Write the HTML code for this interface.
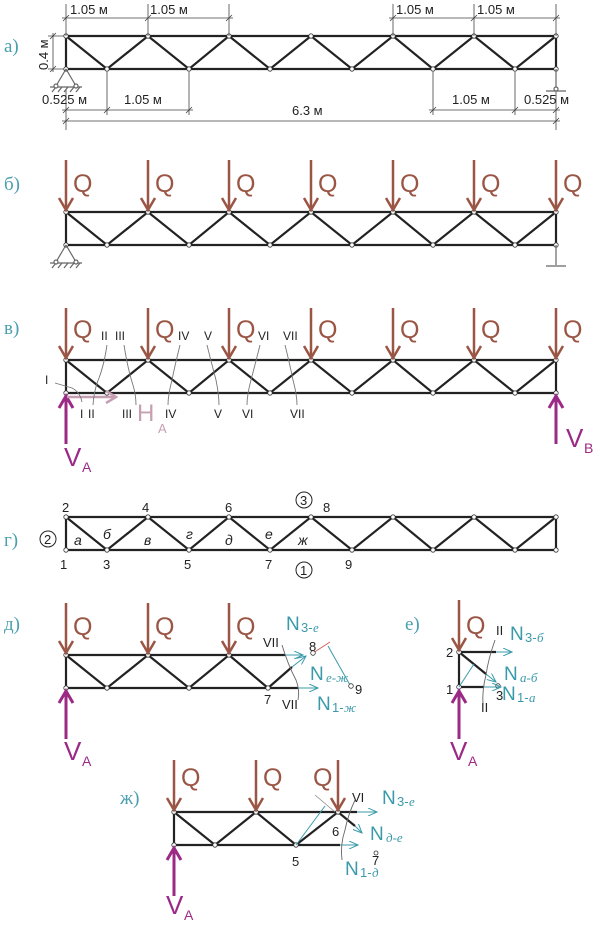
<!DOCTYPE html>
<html><head><meta charset="utf-8"><style>
html,body{margin:0;padding:0;background:#fff}
svg{display:block}
text{font-family:"Liberation Sans",sans-serif}
.lab{fill:#4a9fae;font-family:"Liberation Serif",serif;font-size:19px}
.q{fill:#9a5544;font-size:25px}
.d{font-size:13px;fill:#222}
.r{fill:#9b2a86;font-size:26px}
.n{fill:#3a9aaa;font-size:19px}
.ni{fill:#3a9aaa;font-size:13px;font-style:italic;font-family:"Liberation Serif",serif}
.np{fill:#3a9aaa;font-size:13px}
.c{fill:#222;font-size:12px}
.c13{fill:#222;font-size:13px}
.rs{fill:#9b2a86;font-size:14px}
</style></head><body>
<svg width="600" height="926" viewBox="0 0 600 926" xmlns="http://www.w3.org/2000/svg">
<defs>
<marker id="nd" markerWidth="6" markerHeight="6" refX="3" refY="3" markerUnits="userSpaceOnUse"><circle cx="3" cy="3" r="2.2" fill="#fff" stroke="#333" stroke-width="0.8"/></marker>
<marker id="ta" markerWidth="10" markerHeight="8" refX="9" refY="4" orient="auto" markerUnits="userSpaceOnUse"><path d="M0,0 L9,4 L0,8" fill="none" stroke="#3a9aaa" stroke-width="1"/></marker>
<g id="truss" stroke="#222" stroke-width="2.2" fill="none">
<line x1="66" y1="0" x2="556" y2="0"/><line x1="66" y1="33" x2="556" y2="33"/>
<line x1="66" y1="0" x2="66" y2="33"/><line x1="556" y1="0" x2="556" y2="33"/>
<polyline points="66,0 107,33 148,0 189,33 229,0 270,33 311,0 352,33 393,0 433,33 474,0 515,33 556,0" marker-start="url(#nd)" marker-mid="url(#nd)" marker-end="url(#nd)"/>
<line x1="66" y1="33" x2="66" y2="33" marker-start="url(#nd)"/><line x1="556" y1="33" x2="556" y2="33" marker-start="url(#nd)"/>
</g>
<g id="qa" stroke="#9a5544" stroke-width="2.5" fill="none"><line x1="0" y1="-52" x2="0" y2="-2"/><polyline points="-7,-14 0,-2 7,-14"/></g>
<g id="va" stroke="#9b2a86" stroke-width="3" fill="none"><line x1="0" y1="50" x2="0" y2="2"/><polyline points="-7,14 0,2 7,14"/></g>
</defs>

<!-- a) -->
<text x="4" y="52" class="lab">а)</text>
<use href="#truss" y="36"/>
<g stroke="#444" stroke-width="0.8" fill="none">
<path d="M66,4V36 M148,4V36 M229,4V36 M393,4V36 M474,4V36 M556,4V36"/>
<path d="M62,18H233 M389,18H560"/>
<path d="M63,21L69,15 M145,21L151,15 M226,21L232,15 M390,21L396,15 M471,21L477,15 M553,21L559,15"/>
<path d="M48,36H64 M48,69H64 M53,33V72 M50,39L56,33 M50,72L56,66"/>
<path d="M107,72V115 M189,72V115 M433,72V115 M515,72V115 M556,72V130 M66,90V130"/>
<path d="M62,110H193 M429,110H560 M63,113L69,107 M104,113L110,107 M186,113L192,107 M430,113L436,107 M512,113L518,107 M553,113L559,107"/>
<path d="M62,121H560 M63,124L69,118 M553,124L559,118"/>
</g>
<text x="70" y="14" class="d">1.05 м</text><text x="150" y="14" class="d">1.05 м</text>
<text x="396" y="14" class="d">1.05 м</text><text x="477" y="14" class="d">1.05 м</text>
<text x="48" y="70" class="d" transform="rotate(-90 48 70)">0.4 м</text>
<text x="42" y="104" class="d">0.525 м</text><text x="124" y="104" class="d">1.05 м</text>
<text x="452" y="104" class="d">1.05 м</text><text x="524" y="104" class="d">0.525 м</text>
<text x="292" y="115" class="d">6.3 м</text>
<g stroke="#666" stroke-width="1.2" fill="none">
<path d="M66,69 L56,86 M66,69 L76,86 M50,87H82"/><path d="M52,92l4,-5 M58,92l4,-5 M64,92l4,-5 M70,92l4,-5 M76,92l4,-5"/>
<circle cx="56" cy="86" r="2" fill="#fff"/><circle cx="76" cy="86" r="2" fill="#fff"/>
<path d="M556,69V90 M546,91H566"/><circle cx="556" cy="89" r="2" fill="#fff"/>
</g>

<!-- б) -->
<text x="4" y="190" class="lab">б)</text>
<use href="#truss" y="212"/>
<use href="#qa" x="66" y="212"/><use href="#qa" x="148" y="212"/><use href="#qa" x="229" y="212"/><use href="#qa" x="311" y="212"/><use href="#qa" x="393" y="212"/><use href="#qa" x="474" y="212"/><use href="#qa" x="556" y="212"/>
<text x="73" y="192" class="q">Q</text><text x="155" y="192" class="q">Q</text><text x="236" y="192" class="q">Q</text><text x="318" y="192" class="q">Q</text><text x="400" y="192" class="q">Q</text><text x="481" y="192" class="q">Q</text><text x="563" y="192" class="q">Q</text>
<g stroke="#666" stroke-width="1.2" fill="none">
<path d="M66,245 L56,262 M66,245 L76,262 M50,263H82"/><path d="M52,268l4,-5 M58,268l4,-5 M64,268l4,-5 M70,268l4,-5 M76,268l4,-5"/>
<circle cx="56" cy="262" r="2" fill="#fff"/><circle cx="76" cy="262" r="2" fill="#fff"/>
<path d="M556,245V265 M546,266H566"/>
</g>

<!-- в) -->
<text x="4" y="334" class="lab">в)</text>
<use href="#truss" y="360"/>
<use href="#qa" x="66" y="360"/><use href="#qa" x="148" y="360"/><use href="#qa" x="229" y="360"/><use href="#qa" x="311" y="360"/><use href="#qa" x="393" y="360"/><use href="#qa" x="474" y="360"/><use href="#qa" x="556" y="360"/>
<text x="73" y="338" class="q">Q</text><text x="155" y="338" class="q">Q</text><text x="236" y="338" class="q">Q</text><text x="318" y="338" class="q">Q</text><text x="400" y="338" class="q">Q</text><text x="481" y="338" class="q">Q</text><text x="563" y="338" class="q">Q</text>
<use href="#va" x="66" y="394"/><use href="#va" x="556" y="394"/>
<text x="64" y="466" class="r">V</text><text x="82" y="472" class="rs">A</text>
<text x="566" y="447" class="r">V</text><text x="584" y="453" class="rs">B</text>
<g stroke="#c79fb2" stroke-width="2.5" fill="none"><line x1="67" y1="397" x2="116" y2="397"/><polyline points="106,391 116,397 106,403"/></g>
<text x="137" y="421" fill="#c79fb2" font-size="24">H</text><text x="158" y="433" fill="#c79fb2" font-size="13">A</text>
<g stroke="#777" stroke-width="0.9" fill="none">
<path d="M55,383 L72,388 Q80,392 82,402"/>
<path d="M107,345 Q104,365 99,378 Q94,390 93,405"/>
<path d="M124,345 Q128,370 133,385 Q136,395 136,405"/>
<path d="M180,345 Q175,365 172,380 Q168,395 168,405"/>
<path d="M207,345 Q212,365 216,380 Q219,395 219,405"/>
<path d="M260,345 Q255,365 251,380 Q247,395 247,405"/>
<path d="M285,345 Q290,365 293,380 Q297,395 297,405"/>
</g>
<text x="45" y="384" class="c">I</text>
<text x="101" y="340" class="c">II</text><text x="115" y="340" class="c">III</text><text x="178" y="340" class="c">IV</text><text x="204" y="340" class="c">V</text><text x="258" y="340" class="c">VI</text><text x="283" y="340" class="c">VII</text>
<text x="80" y="418" class="c">I</text><text x="88" y="418" class="c">II</text><text x="122" y="418" class="c">III</text><text x="165" y="418" class="c">IV</text><text x="214" y="418" class="c">V</text><text x="242" y="418" class="c">VI</text><text x="290" y="418" class="c">VII</text>

<!-- г) -->
<text x="4" y="546" class="lab">г)</text>
<use href="#truss" y="517"/>
<text x="62" y="512" class="c13">2</text><text x="142" y="512" class="c13">4</text><text x="225" y="512" class="c13">6</text><text x="323" y="512" class="c13">8</text>
<text x="60" y="569" class="c13">1</text><text x="103" y="569" class="c13">3</text><text x="184" y="569" class="c13">5</text><text x="265" y="569" class="c13">7</text><text x="345" y="569" class="c13">9</text>
<g fill="none" stroke="#222" stroke-width="1"><circle cx="48" cy="539" r="8"/><circle cx="304" cy="500" r="8"/><circle cx="304" cy="570" r="8"/></g>
<text x="44" y="544" class="c13">2</text><text x="300" y="505" class="c13">3</text><text x="300" y="575" class="c13">1</text>
<g font-family="Liberation Serif,serif" font-style="italic" font-size="14" fill="#222">
<text x="74" y="545">а</text><text x="103" y="539">б</text><text x="144" y="545">в</text><text x="186" y="539">г</text><text x="225" y="545">д</text><text x="265" y="539">е</text><text x="298" y="545">ж</text></g>

<!-- д) -->
<text x="4" y="630" class="lab">д)</text>
<g stroke="#222" stroke-width="2.2" fill="none">
<line x1="66" y1="655" x2="285" y2="655"/><line x1="66" y1="688" x2="298" y2="688"/><line x1="66" y1="655" x2="66" y2="688"/>
<polyline points="66,655 107,688 148,655 189,688 229,655 268,688 292,667" marker-start="url(#nd)" marker-mid="url(#nd)"/>
<line x1="66" y1="688" x2="66" y2="688" marker-start="url(#nd)"/>
</g>
<use href="#qa" x="66" y="655"/><use href="#qa" x="148" y="655"/><use href="#qa" x="229" y="655"/>
<text x="73" y="635" class="q">Q</text><text x="155" y="635" class="q">Q</text><text x="236" y="635" class="q">Q</text>
<use href="#va" x="66" y="689"/>
<text x="64" y="760" class="r">V</text><text x="82" y="766" class="rs">A</text>
<g stroke="#3a9aaa" stroke-width="1" fill="none">
<line x1="285" y1="655" x2="303" y2="655" marker-end="url(#ta)"/>
<line x1="298" y1="688" x2="318" y2="688" marker-end="url(#ta)"/>
<line x1="292" y1="667" x2="306" y2="656" marker-end="url(#ta)"/>
<line x1="328" y1="646" x2="350" y2="685"/>
</g>
<line x1="313" y1="653" x2="330" y2="642" stroke="#c55" stroke-width="0.8"/>
<circle cx="313" cy="653" r="2.3" fill="#fff" stroke="#333" stroke-width="0.8"/>
<circle cx="351" cy="686" r="2.3" fill="#fff" stroke="#333" stroke-width="0.8"/>
<path d="M282,645 Q288,665 296,680 Q300,690 298,700" stroke="#666" stroke-width="0.9" fill="none"/>
<text x="263" y="647" class="c13">VII</text><text x="282" y="709" class="c13">VII</text>
<text x="309" y="651" class="c13">8</text><text x="264" y="704" class="c13">7</text><text x="355" y="694" class="c13">9</text>
<text x="286" y="630" class="n">N</text><text x="301" y="632" class="np">3-</text><text x="313" y="632" class="ni">е</text>
<text x="310" y="680" class="n">N</text><text x="326" y="682" class="ni">е-ж</text>
<text x="317" y="710" class="n">N</text><text x="332" y="712" class="np">1-</text><text x="344" y="712" class="ni">ж</text>

<!-- е) -->
<text x="405" y="630" class="lab">е)</text>
<g stroke="#222" stroke-width="2.2" fill="none">
<line x1="459" y1="652" x2="496" y2="652"/><line x1="459" y1="687" x2="484" y2="687"/><line x1="459" y1="652" x2="459" y2="687"/>
<line x1="459" y1="652" x2="486" y2="674"/>
</g>
<circle cx="459" cy="652" r="2.3" fill="#fff" stroke="#333" stroke-width="0.8"/><circle cx="459" cy="687" r="2.3" fill="#fff" stroke="#333" stroke-width="0.8"/>
<circle cx="498" cy="686" r="2.3" fill="#fff" stroke="#333" stroke-width="0.8"/>
<g stroke="#3a9aaa" stroke-width="1" fill="none">
<line x1="496" y1="652" x2="512" y2="652" marker-end="url(#ta)"/>
<line x1="484" y1="687" x2="501" y2="687" marker-end="url(#ta)"/>
<line x1="486" y1="674" x2="496" y2="682" marker-end="url(#ta)"/>
<line x1="459" y1="687" x2="474" y2="664"/>
</g>
<path d="M495,640 Q488,660 486,675 Q482,690 483,705" stroke="#666" stroke-width="0.9" fill="none"/>
<use href="#qa" x="459" y="652"/><text x="466" y="634" class="q">Q</text>
<use href="#va" x="459" y="689"/>
<text x="450" y="760" class="r">V</text><text x="468" y="766" class="rs">A</text>
<text x="496" y="635" class="c13">II</text><text x="481" y="712" class="c13">II</text>
<text x="446" y="657" class="c13">2</text><text x="446" y="694" class="c13">1</text><text x="496" y="700" class="c13">3</text>
<text x="510" y="640" class="n">N</text><text x="525" y="642" class="np">3-</text><text x="537" y="642" class="ni">б</text>
<text x="504" y="680" class="n">N</text><text x="520" y="682" class="ni">а-б</text>
<text x="502" y="700" class="n">N</text><text x="517" y="702" class="np">1-</text><text x="529" y="702" class="ni">а</text>

<!-- ж) -->
<text x="120" y="804" class="lab">ж)</text>
<g stroke="#222" stroke-width="2.2" fill="none">
<line x1="174" y1="812" x2="357" y2="812"/><line x1="174" y1="845" x2="340" y2="845"/><line x1="174" y1="812" x2="174" y2="845"/>
<polyline points="174,812 215,845 256,812 296,845 338,812 355,826" marker-start="url(#nd)" marker-mid="url(#nd)"/>
<line x1="174" y1="845" x2="174" y2="845" marker-start="url(#nd)"/>
</g>
<g stroke="#3a9aaa" stroke-width="1" fill="none">
<line x1="357" y1="812" x2="377" y2="812" marker-end="url(#ta)"/>
<line x1="340" y1="845" x2="358" y2="845" marker-end="url(#ta)"/>
<line x1="355" y1="826" x2="362" y2="833" marker-end="url(#ta)"/>
<line x1="296" y1="845" x2="325" y2="806"/>
</g>
<line x1="315" y1="795" x2="335" y2="812" stroke="#888" stroke-width="0.8"/>
<path d="M355,800 Q348,815 345,830 Q340,845 342,860" stroke="#666" stroke-width="0.9" fill="none"/>
<use href="#qa" x="174" y="812"/><use href="#qa" x="256" y="812"/><use href="#qa" x="338" y="812"/>
<text x="181" y="786" class="q">Q</text><text x="263" y="786" class="q">Q</text><text x="313" y="786" class="q">Q</text>
<use href="#va" x="174" y="846"/>
<text x="166" y="914" class="r">V</text><text x="184" y="920" class="rs">A</text>
<text x="352" y="802" class="c13">VI</text><text x="332" y="836" class="c13">6</text><text x="292" y="866" class="c13">5</text>
<circle cx="376" cy="853" r="2" fill="#fff" stroke="#333" stroke-width="0.8"/><text x="372" y="865" class="c13">7</text>
<text x="382" y="804" class="n">N</text><text x="397" y="806" class="np">3-</text><text x="409" y="806" class="ni">е</text>
<text x="370" y="840" class="n">N</text><text x="386" y="842" class="ni">д-е</text>
<text x="345" y="875" class="n">N</text><text x="360" y="877" class="np">1-</text><text x="372" y="877" class="ni">д</text>
</svg>
</body></html>
